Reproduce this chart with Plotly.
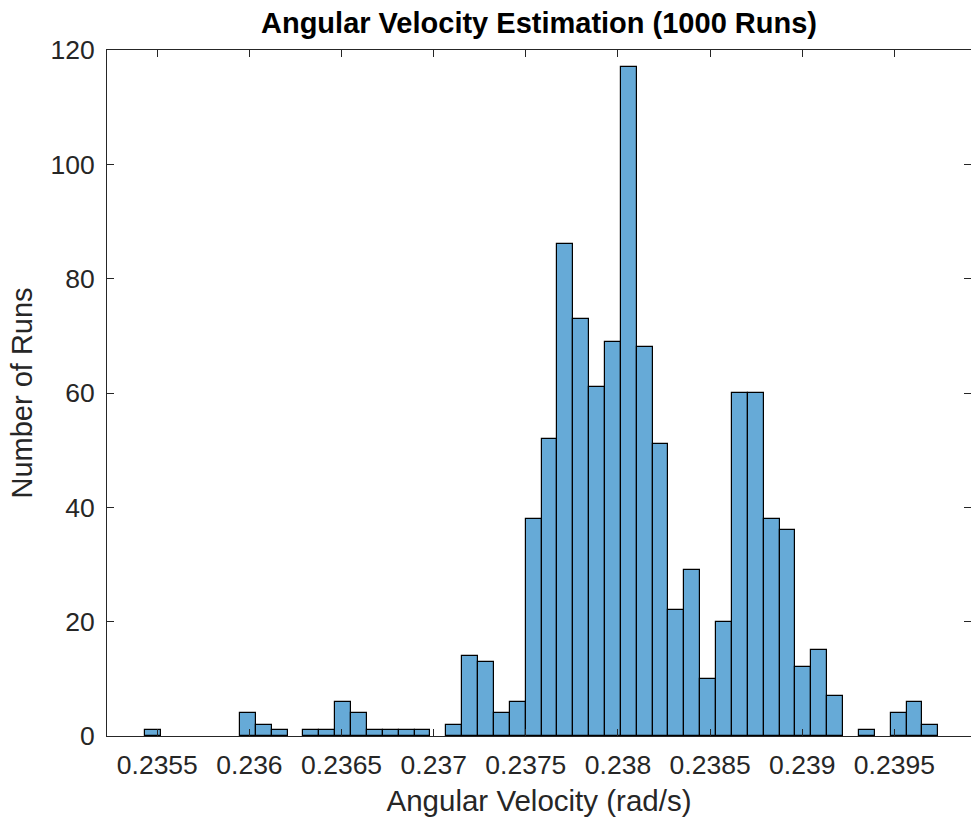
import plotly.graph_objects as go

# Histogram of the estimated angular velocity over 1000 Monte-Carlo runs (50 equal bins)
bin_start = 0.2354316
bin_width = 8.6136e-5
counts = [1, 0, 0, 0, 0, 0, 4, 2, 1, 0,
          1, 1, 6, 4, 1, 1, 1, 1, 0, 2,
          14, 13, 4, 6, 38, 52, 86, 73, 61, 69,
          117, 68, 51, 22, 29, 10, 20, 60, 60, 38,
          36, 12, 15, 7, 0, 1, 0, 4, 6, 2]

x_tick_vals = [0.2355, 0.2360, 0.2365, 0.2370, 0.2375, 0.2380, 0.2385, 0.2390, 0.2395]
x_tick_text = ["0.2355", "0.236", "0.2365", "0.237", "0.2375", "0.238", "0.2385", "0.239", "0.2395"]
y_tick_vals = [0, 20, 40, 60, 80, 100, 120]

x_range = [0.2352269, 0.2399159]
y_range = [0, 120]

centers = [bin_start + (i + 0.5) * bin_width for i in range(len(counts))]
# empty bins are left undrawn so no edge line sits on the baseline
heights = [c if c > 0 else None for c in counts]

FONT = "Liberation Sans, Arial, Helvetica, sans-serif"
AX = "#262626"

fig = go.Figure()
fig.add_trace(go.Bar(
    x=centers, y=heights, width=bin_width,
    marker=dict(color="#66AAD7", line=dict(color="#000000", width=1.2)),
    showlegend=False, hoverinfo="x+y",
))
# invisible point that carries the right-hand tick axis
fig.add_trace(go.Scatter(
    x=[centers[0]], y=[0], yaxis="y2", mode="markers",
    marker=dict(opacity=0), showlegend=False, hoverinfo="skip",
))

fig.update_layout(
    width=971, height=824,
    margin=dict(l=107, r=0, t=50, b=88, autoexpand=False),
    paper_bgcolor="white", plot_bgcolor="white",
    bargap=0,
    font=dict(family=FONT, color=AX),
    title=dict(
        text="<b>Angular Velocity Estimation (1000 Runs)</b>",
        font=dict(family=FONT, size=29, color="#000000"),
        x=0.5, xref="paper", xanchor="center",
        y=1 - 23.0 / 824, yref="container", yanchor="middle",
    ),
    xaxis=dict(
        range=x_range, tickvals=x_tick_vals, ticktext=x_tick_text,
        ticks="inside", ticklen=7, tickwidth=1, tickcolor=AX,
        showline=True, linecolor=AX, linewidth=1, mirror="ticks",
        showgrid=False, zeroline=False,
        tickfont=dict(family=FONT, size=26.5, color=AX),
        ticklabelstandoff=5,
        title=dict(text="Angular Velocity (rad/s)", font=dict(family=FONT, size=29.5, color=AX), standoff=11),
        automargin=False,
    ),
    yaxis=dict(
        range=y_range, tickvals=y_tick_vals,
        ticks="inside", ticklen=7, tickwidth=1, tickcolor=AX,
        showline=True, linecolor=AX, linewidth=1, mirror=False,
        showgrid=False, zeroline=False,
        tickfont=dict(family=FONT, size=26.5, color=AX),
        ticklabelstandoff=6,
        title=dict(text="Number of Runs", font=dict(family=FONT, size=29, color=AX), standoff=9),
        automargin=False,
    ),
    yaxis2=dict(
        range=y_range, tickvals=y_tick_vals, overlaying="y", side="right", anchor="x",
        ticks="inside", ticklen=7, tickwidth=1, tickcolor=AX,
        showline=False, showgrid=False, zeroline=False, showticklabels=False,
    ),
)

fig.write_html("out.html")
